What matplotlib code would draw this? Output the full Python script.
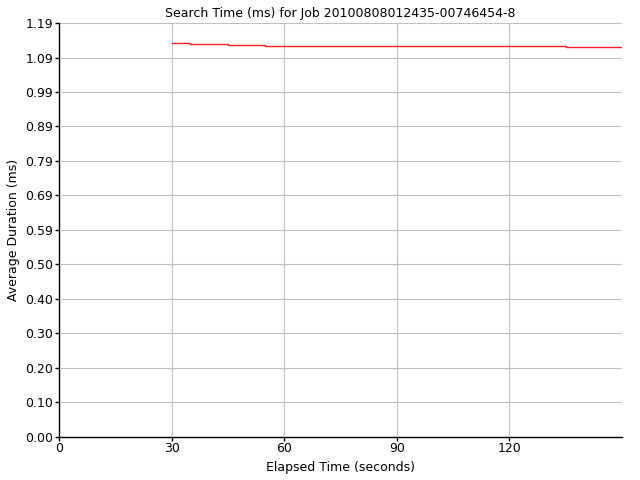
import numpy as np
import matplotlib
matplotlib.use("Agg")
import matplotlib.pyplot as plt

# elapsed seconds at each step change, and average duration (ms) from there on
elapsed = [30, 35, 45, 55, 135, 150]
avg_ms = [1.1316, 1.1287, 1.1259, 1.1230, 1.1201, 1.1201]

x_ticks = [0, 30, 60, 90, 120]
y_max = 1.19
y_labels = ["0.00", "0.10", "0.20", "0.30", "0.40", "0.50", "0.59",
            "0.69", "0.79", "0.89", "0.99", "1.09", "1.19"]

plt.rcParams['font.family'] = ['DejaVu Sans']
fig = plt.figure(figsize=(6.4, 4.8), dpi=100)
ax = fig.add_axes([0.092, 0.090, 0.880, 0.862])

ax.plot(elapsed, avg_ms, drawstyle="steps-post", color="#ff2020", lw=1.0, zorder=3)

ax.set_xlim(0, 150)
ax.set_ylim(0, y_max)
ax.set_xticks(x_ticks)
ax.set_xticklabels([str(t) for t in x_ticks])
ax.set_yticks(np.linspace(0, y_max, len(y_labels)))
ax.set_yticklabels(y_labels)

ax.grid(True, color="#c0c0c0", lw=0.8)
ax.set_axisbelow(True)
for side in ["top", "right"]:
    ax.spines[side].set_visible(False)
for side in ["left", "bottom"]:
    ax.spines[side].set_color("black")
    ax.spines[side].set_linewidth(1.0)
ax.tick_params(direction="out", length=3, width=1, labelsize=9, pad=1, colors="black")

ax.set_title("Search Time (ms) for Job 20100808012435-00746454-8", fontsize=9, pad=4)
ax.set_xlabel("Elapsed Time (seconds)", fontsize=9, labelpad=4)
ax.set_ylabel("Average Duration (ms)", fontsize=9, labelpad=4)

fig.savefig("out.png", dpi=100, facecolor="white")
